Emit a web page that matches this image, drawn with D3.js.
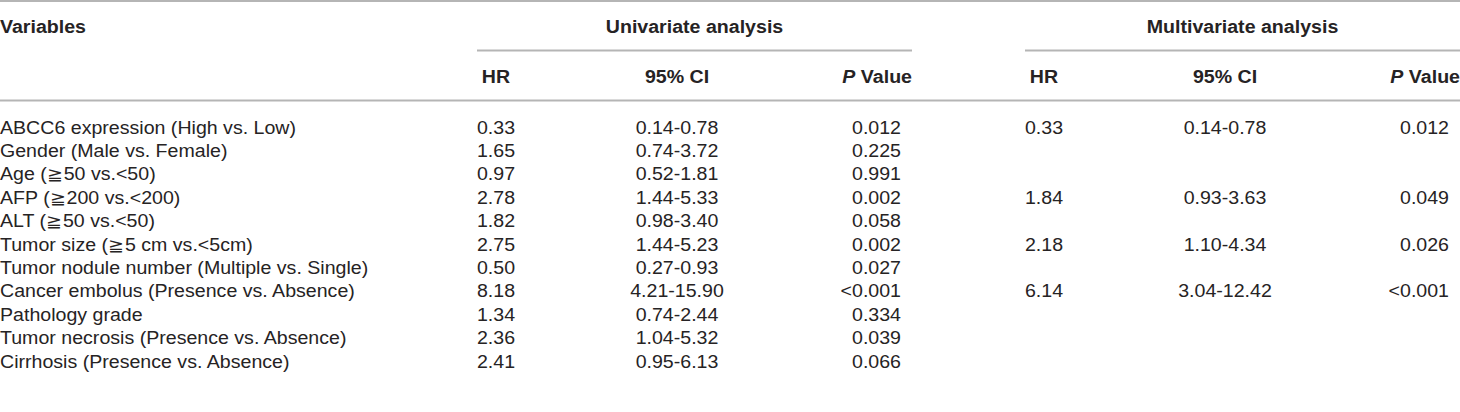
<!DOCTYPE html>
<html><head><meta charset="utf-8">
<script src="https://cdn.jsdelivr.net/npm/d3@7/dist/d3.min.js"></script>
<style>
html,body{margin:0;padding:0;background:#fff;}
svg text{font-family:"Liberation Sans",Arial,sans-serif;fill:#262324;}
</style></head>
<body><svg id="c" width="1460" height="412"></svg>
<script>
const variables = [
  "ABCC6 expression (High vs. Low)",
  "Gender (Male vs. Female)",
  "Age (\u226750 vs.<50)",
  "AFP (\u2267200 vs.<200)",
  "ALT (\u226750 vs.<50)",
  "Tumor size (\u22675 cm vs.<5cm)",
  "Tumor nodule number (Multiple vs. Single)",
  "Cancer embolus (Presence vs. Absence)",
  "Pathology grade",
  "Tumor necrosis (Presence vs. Absence)",
  "Cirrhosis (Presence vs. Absence)"
];
const groupLabels = ["Univariate analysis","Multivariate analysis"];
const columnLabels = ["HR","95% CI","P Value"];
const uniHR = ["0.33","1.65","0.97","2.78","1.82","2.75","0.50","8.18","1.34","2.36","2.41"];
const uniCI = ["0.14-0.78","0.74-3.72","0.52-1.81","1.44-5.33","0.98-3.40","1.44-5.23","0.27-0.93","4.21-15.90","0.74-2.44","1.04-5.32","0.95-6.13"];
const uniP  = ["0.012","0.225","0.991","0.002","0.058","0.002","0.027","<0.001","0.334","0.039","0.066"];
const multiHR = ["0.33","","","1.84","","2.18","","6.14","","",""];
const multiCI = ["0.14-0.78","","","0.93-3.63","","1.10-4.34","","3.04-12.42","","",""];
const multiP  = ["0.012","","","0.049","","0.026","","<0.001","","",""];

const W = 1460, H = 412;
const svg = d3.select("#c");
const FS = 17.5, SX = 1.12;
const lineColor = "#b5b5b5";

// row scale
const y = d3.scaleBand().domain(d3.range(variables.length)).range([115.5, 373]).padding(0);
const base = i => y(i) + y.bandwidth()/2 + FS*0.36;

// group spans
const groups = [
  {label:groupLabels[0], x0:477, x1:912, hr:uniHR, ci:uniCI, p:uniP},
  {label:groupLabels[1], x0:1025, x1:1460, hr:multiHR, ci:multiCI, p:multiP}
];

function hline(x1,x2,yy){ svg.append("line").attr("x1",x1).attr("x2",x2).attr("y1",yy).attr("y2",yy)
  .attr("stroke",lineColor).attr("stroke-width",2); }
hline(0,W,1);
hline(0,W,100.5);

function txt(x,yy,s,anchor,bold){
  return svg.append("text").attr("transform",`translate(${x},${yy}) scale(${SX},1)`)
    .attr("text-anchor",anchor||"start")
    .attr("font-size",FS).attr("font-weight",bold?"bold":"normal").text(s);
}
txt(0,33,"Variables","start",true);

groups.forEach(g=>{
  hline(g.x0,g.x1,50.5);
  txt((g.x0+g.x1)/2,33,g.label,"middle",true);
  const cols = [
    {x:g.x0+19, a:"middle", hx:g.x0+19, d:g.hr, h:columnLabels[0]},
    {x:g.x0+200, a:"middle", hx:g.x0+200, d:g.ci, h:columnLabels[1]},
    {x:g.x1-11, a:"end", hx:g.x1, d:g.p, h:columnLabels[2], italicFirst:true}
  ];
  cols.forEach(c=>{
    const t = txt(c.hx,83,"",c.a,true);
    if(c.italicFirst){
      const parts = c.h.split(" ");
      t.append("tspan").attr("font-style","italic").text(parts[0]);
      t.append("tspan").text(" "+parts.slice(1).join(" "));
    } else t.text(c.h);
    c.d.forEach((v,i)=>{ if(v) txt(c.x,base(i),v,c.a,false); });
  });
});
variables.forEach((v,i)=>txt(0,base(i),v,"start",false));
</script></body></html>
